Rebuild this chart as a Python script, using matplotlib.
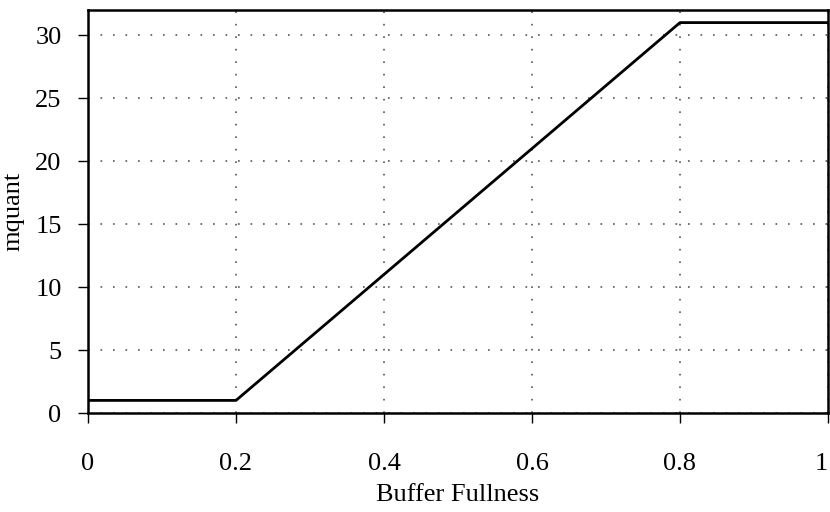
import matplotlib
matplotlib.use("Agg")
import matplotlib.pyplot as plt

# mquant as a function of buffer fullness
buffer_fullness = [0.0, 0.2, 0.8, 1.0]
mquant = [1, 1, 31, 31]

x_ticks = [0, 0.2, 0.4, 0.6, 0.8, 1]
x_tick_labels = ["0", "0.2", "0.4", "0.6", "0.8", "1"]
y_ticks = [0, 5, 10, 15, 20, 25, 30]

plt.rcParams["font.family"] = ["Liberation Serif", "DejaVu Serif"]

fig = plt.figure(figsize=(8.3, 5.12), dpi=100)
ax = fig.add_axes([88 / 830, 99 / 512, 740 / 830, 403 / 512])

ax.plot(buffer_fullness, mquant, color="black", linewidth=2)

ax.set_xlim(0, 1)
ax.set_ylim(0, 32)
ax.set_xticks(x_ticks)
ax.set_xticklabels(x_tick_labels)
ax.set_yticks(y_ticks)

ax.grid(True, color="#555555", linestyle=(0, (1, 6.5)), linewidth=1.2)
for spine in ax.spines.values():
    spine.set_linewidth(1.8)

ax.tick_params(direction="out", length=7, width=1, labelsize=19, pad=12)
ax.tick_params(axis="x", pad=22)

# keep the last x label inside the figure edge
ax.get_xticklabels()[-1].set_horizontalalignment("right")

ax.set_xlabel("Buffer Fullness", fontsize=19, labelpad=6)
ax.set_ylabel("mquant", fontsize=19, labelpad=8)

fig.savefig("out.png", dpi=100)
